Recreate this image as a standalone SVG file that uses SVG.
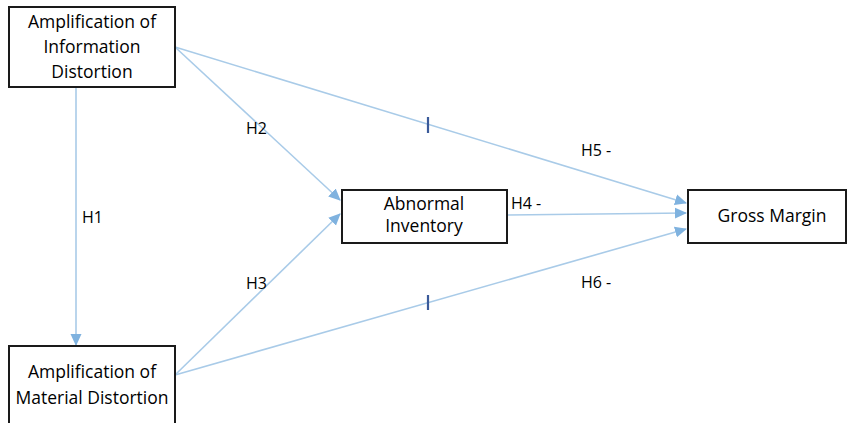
<svg xmlns="http://www.w3.org/2000/svg" width="847" height="423" viewBox="0 0 847 423">
<defs>
<style>
.box{fill:#fff;stroke:#1a1a1a;stroke-width:2}
.t{font-family:"Open Sans","Noto Sans",sans-serif;font-size:17.5px;fill:#000;text-anchor:middle}
.l{font-family:"Open Sans","Noto Sans",sans-serif;font-size:16px;fill:#000}
.c{stroke:#a9cbe8;stroke-width:1.6;fill:none}
.tick{stroke:#3a5a9a;stroke-width:2.2}
</style>
<marker id="ah" markerWidth="12" markerHeight="12" refX="11" refY="6" orient="auto" markerUnits="userSpaceOnUse">
<path d="M0,0.5 L12,6 L0,11.5 z" fill="#7fb2df"/>
</marker>
</defs>
<rect width="847" height="423" fill="#fff"/>
<g id="connectors">
<line class="c" x1="76" y1="88" x2="76" y2="345" marker-end="url(#ah)"/>
<line class="c" x1="175" y1="47" x2="340" y2="200" marker-end="url(#ah)"/>
<line class="c" x1="175" y1="375" x2="340" y2="214" marker-end="url(#ah)"/>
<line class="c" x1="175" y1="47" x2="686" y2="203" marker-end="url(#ah)"/>
<line class="c" x1="507" y1="215" x2="686" y2="213" marker-end="url(#ah)"/>
<line class="c" x1="175" y1="375" x2="686" y2="229" marker-end="url(#ah)"/>
<line class="tick" x1="428" y1="117" x2="428" y2="133"/>
<line class="tick" x1="428" y1="295" x2="428" y2="310"/>
<text class="l" x="82" y="223">H1</text>
<text class="l" x="246" y="134">H2</text>
<text class="l" x="246" y="289">H3</text>
<text class="l" x="511" y="209">H4 -</text>
<text class="l" x="581" y="156">H5 -</text>
<text class="l" x="581" y="288">H6 -</text>
</g>
<g id="info">
<rect class="box" x="9" y="7" width="166" height="80"/>
<text class="t" x="92" y="28">Amplification of</text>
<text class="t" x="92" y="53">Information</text>
<text class="t" x="92" y="78">Distortion</text>
</g>
<g id="material">
<rect class="box" x="9" y="346" width="166" height="82"/>
<text class="t" x="92" y="378">Amplification of</text>
<text class="t" x="92" y="404">Material Distortion</text>
</g>
<g id="abnormal">
<rect class="box" x="342" y="190" width="165" height="53"/>
<text class="t" x="424" y="210">Abnormal</text>
<text class="t" x="424" y="232">Inventory</text>
</g>
<g id="gross">
<rect class="box" x="688" y="190" width="158" height="53"/>
<text class="t" x="772" y="222">Gross Margin</text>
</g>
</svg>
